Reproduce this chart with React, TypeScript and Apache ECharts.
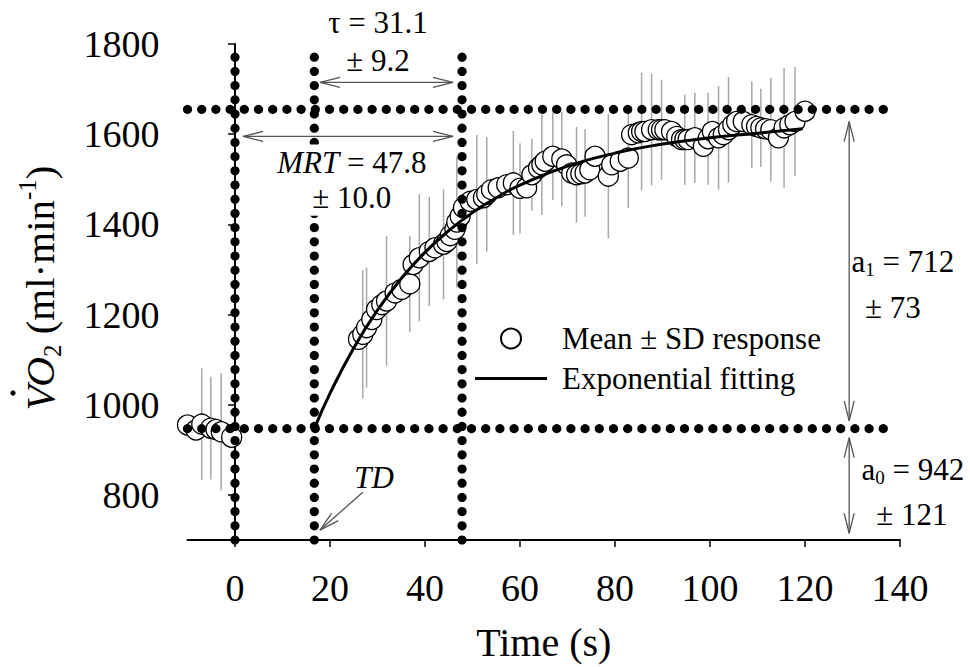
import React, { useEffect, useRef } from "react";
import * as echarts from "echarts";

// ---- data ----
const TIMES = [
  -10.0, -8.2, -7.0, -5.1, -4.0, -2.9, -0.7,
  26.0, 26.9, 27.7, 28.8, 29.8, 30.9, 31.9, 33.7, 35.1, 36.8, 37.5, 38.8, 40.9, 42.1, 43.9, 44.6, 45.3, 46.3, 46.7,
  47.4, 48.1, 49.5, 50.9, 52.3, 53.0, 54.0, 55.4, 57.2, 58.6, 60.0, 61.4, 62.5, 63.9, 64.6, 65.3, 66.9, 68.8, 69.8,
  70.9, 71.9, 72.8, 73.7, 74.7, 75.8, 78.6, 79.3, 81.1, 82.8, 83.5, 84.9, 85.6, 86.3, 87.7, 89.1, 89.8, 90.5, 91.9,
  93.0, 94.0, 94.7, 95.4, 96.8, 98.6, 99.6, 100.5, 101.8, 102.8, 103.9, 104.8, 105.6, 107.0, 108.8, 109.8, 110.7,
  111.7, 112.8, 114.4, 115.6, 116.8, 117.9, 120.0,
];
const VO2 = [
  955, 944, 957, 948, 945, 940, 928,
  1145, 1156, 1171, 1189, 1211, 1222, 1230, 1248, 1256, 1268, 1311, 1326, 1340, 1348, 1356, 1362, 1375, 1389, 1405,
  1418, 1437, 1451, 1455, 1459, 1467, 1477, 1481, 1488, 1492, 1480, 1481, 1510, 1525, 1532, 1540, 1551, 1545, 1532,
  1514, 1510, 1512, 1514, 1521, 1551, 1507, 1532, 1540, 1547, 1599, 1603, 1606, 1606, 1610, 1610, 1610, 1610, 1606,
  1595, 1588, 1588, 1588, 1592, 1573, 1590, 1606, 1592, 1599, 1610, 1621, 1628, 1628, 1621, 1617, 1614,
  1612, 1610, 1592, 1614, 1621, 1628, 1651,
];
const SD = [
  0, 0, 124, 114, 0, 130, 0,
  0, 142, 133, 0, 0, 0, 144, 0, 0, 107, 0, 141, 121, 0, 122, 0, 0, 0, 145,
  0, 0, 0, 143, 0, 127, 0, 0, 0, 115, 100, 0, 80, 0, 111, 0, 97, 105, 0,
  0, 106, 0, 97, 0, 0, 138, 0, 0, 111, 0, 0, 130, 0, 124, 0, 111, 0, 0,
  0, 0, 100, 0, 100, 0, 102, 0, 115, 0, 117, 0, 0, 0, 96, 0, 87,
  0, 115, 0, 133, 0, 121, 0,
];

const FIT_T = [16.7, 20, 25, 30, 35, 40, 45, 50, 55, 60, 70, 80, 90, 100, 110, 119.5];
const FIT_V = [947, 1025, 1126, 1210, 1280, 1338, 1386, 1426, 1459, 1487, 1529, 1558, 1578, 1592, 1602, 1612];

const X_TICKS = [0, 20, 40, 60, 80, 100, 120, 140];
const Y_TICKS = [800, 1000, 1200, 1400, 1600, 1800];

// reference lines (dotted): [x1, y1, x2, y2]
const REF_LINES = [
  [0, 700, 0, 1780],
  [16.7, 700, 16.7, 1800],
  [47.8, 700, 47.8, 1780],
  [-10, 947, 138.2, 947],
  [-10, 1655, 138.2, 1655],
];

// arrows: [x1, y1, x2, y2, heads]
const ARROWS = [
  [17.9, 1715, 45.9, 1715, 2],
  [1.7, 1595, 45.9, 1595, 2],
  [129.3, 1628, 129.3, 964, 2],
  [129.3, 927, 129.3, 715, 2],
  [26.9, 806, 17.9, 722, 1],
];

// annotation texts
const ANNO_TEXT = [
  "τ = 31.1",
  "± 9.2",
  "{i|MRT} = 47.8",
  "± 10.0",
  "a{s|1} = 712",
  "± 73",
  "a{s|0} = 942",
  "± 121",
  "{i|TD}",
];
const ANNO_X = [30.1, 30.1, 24.6, 24.6, 129.8, 138.5, 131.9, 142.5, 29.3];
const ANNO_Y = [1847, 1764, 1537, 1459, 1318, 1216, 857, 757, 839];
const ANNO_ALIGN = ["center", "center", "center", "center", "left", "center", "left", "center", "center"];
const ANNO_BG = [false, false, true, true, false, false, false, false, false];

const FONT = "'Liberation Serif', 'Times New Roman', serif";
const LINE_ICON = "path://M0,0L0.05,0L0.05,0.05Z M0,8.6L72,8.6L72,11.4L0,11.4Z M71.95,19.95L72,20L71.95,20Z";

export default function App() {
  const ref = useRef<HTMLDivElement>(null);

  useEffect(() => {
    if (!ref.current) return;
    const chart = echarts.init(ref.current, undefined, { renderer: "svg" });

    const scatterData = TIMES.map((t, i) => [t, VO2[i]]);
    const errData = TIMES.map((t, i) => [t, VO2[i] - SD[i], VO2[i] + SD[i], SD[i]]).filter((d) => d[3] > 0);
    const fitData = FIT_T.map((t, i) => [t, FIT_V[i]]);
    const annoData = ANNO_TEXT.map((_, i) => [ANNO_X[i], ANNO_Y[i], i]);

    const option: any = {
      animation: false,
      backgroundColor: "#fff",
      grid: { left: 187.5, top: 44, width: 712.5, height: 497, containLabel: false },
      xAxis: {
        type: "value",
        min: -10,
        max: 140,
        name: "Time (s)",
        nameLocation: "middle",
        nameGap: 82,
        nameTextStyle: { fontFamily: FONT, fontSize: 40, color: "#000" },
        axisLine: { show: true, onZero: false, lineStyle: { color: "#000", width: 2 } },
        axisTick: { show: true, inside: false, length: 7, lineStyle: { color: "#000", width: 1.5 }, customValues: X_TICKS },
        axisLabel: { fontFamily: FONT, fontSize: 38, color: "#000", margin: 29, customValues: X_TICKS, formatter: (v: number) => String(v) },
        splitLine: { show: false },
      },
      yAxis: {
        type: "value",
        min: 700,
        max: 1800,
        axisLine: { show: true, lineStyle: { color: "#000", width: 2 } },
        axisTick: { show: true, inside: false, length: 7, lineStyle: { color: "#000", width: 1.5 }, customValues: Y_TICKS },
        axisLabel: { fontFamily: FONT, fontSize: 38, color: "#000", margin: 28, customValues: Y_TICKS, formatter: (v: number) => String(v) },
        splitLine: { show: false },
      },
      legend: {
        orient: "vertical",
        left: 470,
        top: 318,
        itemWidth: 72,
        itemHeight: 20,
        itemGap: 9,
        selectedMode: false,
        data: [
          { name: "Mean ± SD response", icon: "circle" },
          { name: "Exponential fitting", icon: LINE_ICON },
        ],
        textStyle: { fontFamily: FONT, fontSize: 31, color: "#000", lineHeight: 30, padding: [0, 0, 0, 10] },
      },
      graphic: [
        {
          type: "text",
          x: 40,
          y: 288,
          rotation: Math.PI / 2,
          style: {
            text: "{i|VO}{sub|2} (ml·min{sup|-1})",
            fontFamily: FONT,
            fontSize: 41,
            fill: "#000",
            align: "center",
            verticalAlign: "middle",
            lineHeight: 50,
            rich: {
              i: { fontStyle: "italic", fontFamily: FONT, fontSize: 41, lineHeight: 50 },
              sub: { fontFamily: FONT, fontSize: 25, verticalAlign: "bottom", lineHeight: 25 },
              sup: { fontFamily: FONT, fontSize: 25, verticalAlign: "top", lineHeight: 25 },
            },
          },
        },
        { type: "circle", shape: { cx: 13, cy: 393, r: 2.6 }, style: { fill: "#000" } },
      ],
      series: [
        {
          type: "custom",
          name: "sd",
          z: 1,
          silent: true,
          data: errData,
          renderItem: (_p: any, api: any) => {
            const a = api.coord([api.value(0), api.value(1)]);
            const b = api.coord([api.value(0), api.value(2)]);
            return {
              type: "line",
              shape: { x1: a[0], y1: a[1], x2: b[0], y2: b[1] },
              style: { stroke: "#a8a8a8", lineWidth: 1.5 },
            };
          },
        },
        {
          type: "scatter",
          name: "Mean ± SD response",
          z: 2,
          symbol: "circle",
          symbolSize: 20,
          data: scatterData,
          itemStyle: { color: "#fff", borderColor: "#000", borderWidth: 1.3, opacity: 1 },
        },
        {
          type: "line",
          name: "Exponential fitting",
          z: 3,
          data: fitData,
          smooth: true,
          symbol: "none",
          lineStyle: { color: "#000", width: 3 },
          itemStyle: { color: "#000" },
        },
        {
          type: "custom",
          name: "dotted",
          z: 4,
          silent: true,
          clip: false,
          data: REF_LINES,
          renderItem: (_p: any, api: any) => {
            const p1 = api.coord([api.value(0), api.value(1)]);
            const p2 = api.coord([api.value(2), api.value(3)]);
            const dx = p2[0] - p1[0];
            const dy = p2[1] - p1[1];
            const len = Math.hypot(dx, dy) || 1;
            const step = 14.2;
            const n = Math.floor(len / step + 0.01);
            const children: any[] = [];
            for (let k = 0; k <= n; k++) {
              children.push({
                type: "circle",
                shape: { cx: p1[0] + (dx / len) * step * k, cy: p1[1] + (dy / len) * step * k, r: 4.6 },
                style: { fill: "#000" },
              });
            }
            return { type: "group", children };
          },
        },
        {
          type: "custom",
          name: "arrows",
          z: 5,
          silent: true,
          clip: false,
          data: ARROWS,
          renderItem: (_p: any, api: any) => {
            const p1 = api.coord([api.value(0), api.value(1)]);
            const p2 = api.coord([api.value(2), api.value(3)]);
            const heads = api.value(4);
            const dx = p2[0] - p1[0];
            const dy = p2[1] - p1[1];
            const len = Math.hypot(dx, dy) || 1;
            const ux = dx / len;
            const uy = dy / len;
            const nx = -uy;
            const ny = ux;
            const L = 20;
            const W = 5;
            const st = { stroke: "#555", lineWidth: 1.3, fill: "none" };
            const children: any[] = [
              { type: "line", shape: { x1: p1[0], y1: p1[1], x2: p2[0], y2: p2[1] }, style: st },
              {
                type: "polyline",
                shape: {
                  points: [
                    [p2[0] - L * ux + W * nx, p2[1] - L * uy + W * ny],
                    [p2[0], p2[1]],
                    [p2[0] - L * ux - W * nx, p2[1] - L * uy - W * ny],
                  ],
                },
                style: st,
              },
            ];
            if (heads === 2) {
              children.push({
                type: "polyline",
                shape: {
                  points: [
                    [p1[0] + L * ux + W * nx, p1[1] + L * uy + W * ny],
                    [p1[0], p1[1]],
                    [p1[0] + L * ux - W * nx, p1[1] + L * uy - W * ny],
                  ],
                },
                style: st,
              });
            }
            return { type: "group", children };
          },
        },
        {
          type: "custom",
          name: "labels",
          z: 6,
          silent: true,
          clip: false,
          data: annoData,
          renderItem: (_p: any, api: any) => {
            const p = api.coord([api.value(0), api.value(1)]);
            const i = api.value(2);
            return {
              type: "text",
              x: p[0],
              y: p[1],
              style: {
                text: ANNO_TEXT[i],
                fontFamily: FONT,
                fontSize: 31,
                fill: "#000",
                align: ANNO_ALIGN[i],
                verticalAlign: "middle",
                lineHeight: 36,
                backgroundColor: ANNO_BG[i] ? "#fff" : undefined,
                padding: ANNO_BG[i] ? [0, 8] : 0,
                rich: {
                  i: { fontStyle: "italic", fontFamily: FONT, fontSize: 31, lineHeight: 36 },
                  s: { fontFamily: FONT, fontSize: 19, verticalAlign: "bottom", lineHeight: 19 },
                },
              },
            };
          },
        },
      ],
    };

    chart.setOption(option);
    return () => chart.dispose();
  }, []);

  return (
    <div
      ref={ref}
      style={{ position: "absolute", left: 0, top: 0, width: 970, height: 667, background: "#fff" }}
    />
  );
}
